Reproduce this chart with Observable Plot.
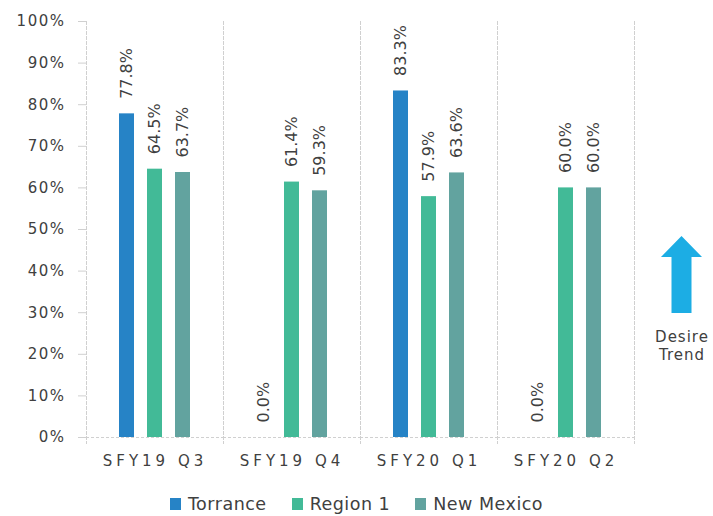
<!DOCTYPE html>
<html>
<head>
<meta charset="utf-8">
<script src="https://cdn.jsdelivr.net/npm/d3@7"></script>
<script src="https://cdn.jsdelivr.net/npm/@observablehq/plot@0.6"></script>
<style>
  body { margin: 0; background: #fff; font-family: "DejaVu Sans", sans-serif; }
  #chart svg { display: block; }
  g[aria-label="fx-axis tick label"] text { letter-spacing: 4px; }
  g[aria-label="y-axis tick label"] text { letter-spacing: 1.5px; }
  .legend { display: flex; justify-content: center; align-items: center; height: 24px; margin-top: 12px; width: 713px;
            font-family: "DejaVu Sans", sans-serif; font-size: 17.5px; letter-spacing: 0.5px; color: #404040; }
  .legend .item { display: flex; align-items: center; margin: 0 12.5px; }
  .legend .sw { width: 11px; height: 12px; margin-right: 7px; display: inline-block; }
</style>
</head>
<body>
<div id="chart"></div>
<script>
// ---- data ----
const groups = ["SFY19 Q3", "SFY19 Q4", "SFY20 Q1", "SFY20 Q2"];
const seriesNames = ["Torrance", "Region 1", "New Mexico"];
const torrance  = [0.778, 0.000, 0.833, 0.000];
const region1   = [0.645, 0.614, 0.579, 0.600];
const newMexico = [0.637, 0.593, 0.636, 0.600];
const colors = ["#2683C6", "#42BA97", "#62A39F"];
const yTicks = [0, 0.1, 0.2, 0.3, 0.4, 0.5, 0.6, 0.7, 0.8, 0.9, 1.0];
const trendLines = ["Desire", "Trend"];

const seriesValues = [torrance, region1, newMexico];
const data = [];
groups.forEach((g, i) => {
  seriesNames.forEach((s, j) => data.push({group: g, series: s, value: seriesValues[j][i]}));
});
const fmt = d3.format(".1%");
const grid = "#D0D0D0";

const svg = Plot.plot({
  width: 713,
  height: 480,
  marginLeft: 85,
  marginRight: 78,
  marginTop: 21,
  marginBottom: 43,
  style: {fontFamily: '"DejaVu Sans", sans-serif', fontSize: "15px", color: "#404040", background: "#fff", overflow: "visible"},
  fx: {domain: groups, padding: 0, label: null, axis: null},
  x: {domain: seriesNames, paddingInner: 0.48, paddingOuter: 1.135, axis: null},
  y: {domain: [0, 1], axis: null},
  color: {domain: seriesNames, range: colors},
  marks: [
    Plot.frame({anchor: "left", stroke: grid, strokeDasharray: "3,2", insetBottom: -6}),
    Plot.frame({anchor: "right", stroke: grid, strokeDasharray: "3,2", insetBottom: -6}),
    Plot.ruleY([0], {stroke: grid, strokeDasharray: "3,2"}),
    Plot.axisY({ticks: yTicks, tickFormat: d3.format(".0%"), tickSize: 8, tickPadding: 13, stroke: grid, fill: "#404040", fontSize: 15, label: null}),
    Plot.axisFx({anchor: "bottom", tickSize: 0, tickPadding: 18, label: null, fill: "#404040", fontSize: 15}),
    Plot.barY(data, {fx: "group", x: "series", y: "value", fill: "series"}),
    Plot.text(data, {fx: "group", x: "series", y: "value", text: d => fmt(d.value), rotate: -90, textAnchor: "start", dy: -15, fontSize: 16, fill: "#404040"})
  ]
});

// Desired-trend annotation in the right margin
const s = d3.select(svg);
s.append("path")
  .attr("d", "M681.5,236 L702,257 L691.5,257 L691.5,313 L671.5,313 L671.5,257 L661,257 Z")
  .attr("fill", "#1CADE4");
s.append("g")
  .attr("font-family", '"DejaVu Sans", sans-serif')
  .attr("font-size", 15)
  .attr("fill", "#404040")
  .attr("text-anchor", "middle")
  .attr("letter-spacing", "1px")
  .selectAll("text").data(trendLines).join("text")
  .attr("x", 682)
  .attr("y", (d, i) => 342 + i * 18)
  .text(d => d);

document.getElementById("chart").appendChild(svg);

// legend below the chart
const legend = document.createElement("div");
legend.className = "legend";
seriesNames.forEach((name, i) => {
  const item = document.createElement("span");
  item.className = "item";
  const sw = document.createElement("span");
  sw.className = "sw";
  sw.style.background = colors[i];
  item.appendChild(sw);
  item.appendChild(document.createTextNode(name));
  legend.appendChild(item);
});
document.getElementById("chart").appendChild(legend);
</script>
</body>
</html>
